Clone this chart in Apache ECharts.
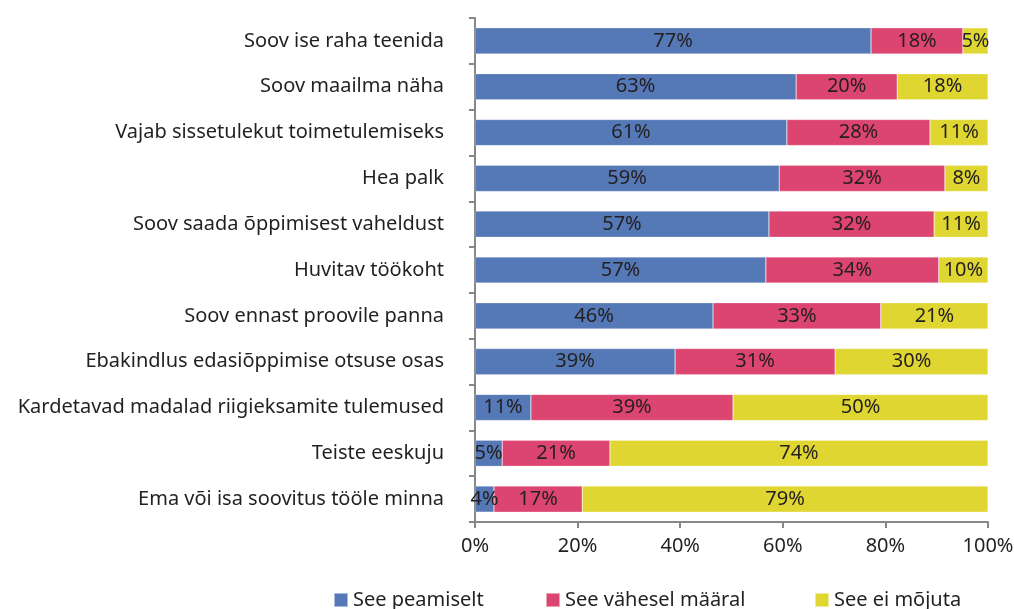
<!DOCTYPE html>
<html>
<head>
<meta charset="utf-8">
<script src="https://cdn.jsdelivr.net/npm/echarts@6/dist/echarts.min.js"></script>
<style>
  html, body { margin: 0; padding: 0; background: #fff; }
  #chart { width: 1014px; height: 609px; }
</style>
</head>
<body>
<div id="chart"></div>
<script>
// kategooriad ülevalt alla
const categories = [
  'Soov ise raha teenida',
  'Soov maailma näha',
  'Vajab sissetulekut toimetulemiseks',
  'Hea palk',
  'Soov saada õppimisest vaheldust',
  'Huvitav töökoht',
  'Soov ennast proovile panna',
  'Ebakindlus edasiõppimise otsuse osas',
  'Kardetavad madalad riigieksamite tulemused',
  'Teiste eeskuju',
  'Ema või isa soovitus tööle minna'
]
const seriesNames = ['See peamiselt', 'See vähesel määral', 'See ei mõjuta']
const peamiselt = [77.2, 62.6, 60.8, 59.3, 57.3, 56.7, 46.4, 39.0, 10.9, 5.3, 3.7]
const vahesel = [17.9, 19.7, 27.9, 32.3, 32.2, 33.7, 32.7, 31.2, 39.4, 21.0, 17.2]
const eiMojuta = [4.9, 17.7, 11.3, 8.4, 10.5, 9.6, 20.9, 29.8, 49.7, 73.7, 79.1]
const xTicks = [0, 20, 40, 60, 80, 100]

const colors = ['#5578b6', '#dc4570', '#dfd632']
const font = '"Noto Sans", sans-serif'
const fontSize = 20
const textColor = '#231f20'

const chart = echarts.init(document.getElementById('chart'))

const makeSeries = (name, data, i) => ({
  name: name,
  type: 'bar',
  stack: 'total',
  barWidth: '57%',
  data: data,
  itemStyle: {
    color: colors[i],
    borderColor: 'rgba(255,255,255,0.5)',
    borderWidth: 0.5
  },
  label: {
    show: true,
    position: 'inside',
    color: textColor,
    fontSize: fontSize,
    fontFamily: font,
    formatter: p => Math.round(p.value) + '%'
  },
  emphasis: { disabled: true }
})

// iga legendi kirje eraldi, et asukohad klapiks
const legendLeft = [333, 545, 814]
const legends = seriesNames.map((n, i) => ({
  data: [n],
  left: legendLeft[i],
  top: 590,
  padding: 0,
  itemWidth: 14,
  itemHeight: 14,
  itemGap: 8,
  icon: 'rect',
  textStyle: { color: textColor, fontSize: fontSize, fontFamily: font }
}))

const options = {
  animation: false,
  color: colors,
  grid: {
    left: 475,
    right: 26,
    top: 18,
    bottom: 87,
    outerBoundsMode: 'none'
  },
  legend: legends,
  xAxis: {
    type: 'value',
    min: 0,
    max: 100,
    interval: 20,
    axisLine: { show: true, lineStyle: { color: '#888', width: 2 } },
    axisTick: { show: true, length: 6, lineStyle: { color: '#888', width: 2 } },
    splitLine: { show: false },
    axisLabel: {
      color: textColor,
      fontSize: fontSize,
      fontFamily: font,
      margin: 14,
      formatter: v => (xTicks.includes(v) ? v + '%' : '')
    }
  },
  yAxis: {
    type: 'category',
    inverse: true,
    data: categories,
    axisLine: { show: true, lineStyle: { color: '#888', width: 2 } },
    axisTick: { show: true, length: 6, lineStyle: { color: '#888', width: 2 } },
    axisLabel: {
      color: textColor,
      fontSize: fontSize,
      fontFamily: font,
      margin: 31
    }
  },
  series: [
    makeSeries(seriesNames[0], peamiselt, 0),
    makeSeries(seriesNames[1], vahesel, 1),
    makeSeries(seriesNames[2], eiMojuta, 2)
  ]
}

chart.setOption(options)
</script>
</body>
</html>
